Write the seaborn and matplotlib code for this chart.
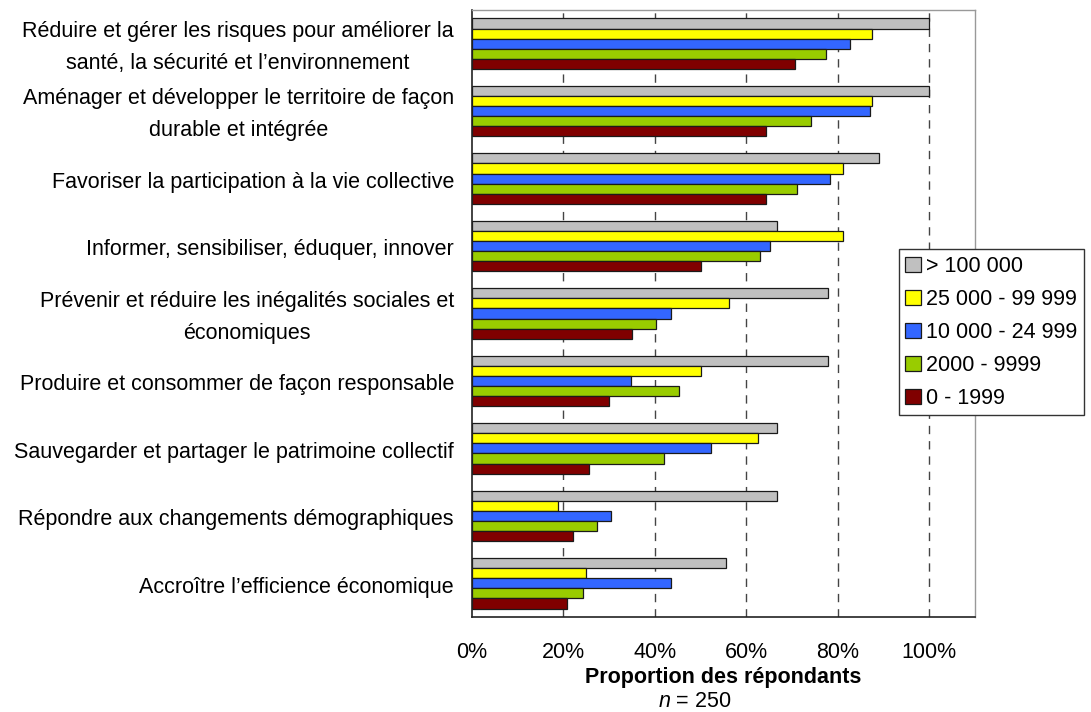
import numpy as np
import pandas as pd
import matplotlib
matplotlib.use("Agg")
import matplotlib.pyplot as plt
from matplotlib.patches import Patch
import seaborn as sns

# Data (% of respondents)
categories = [
    "Réduire et gérer les risques pour améliorer la\nsanté, la sécurité et l’environnement",
    "Aménager et développer le territoire de façon\ndurable et intégrée",
    "Favoriser la participation à la vie collective",
    "Informer, sensibiliser, éduquer, innover",
    "Prévenir et réduire les inégalités sociales et\néconomiques",
    "Produire et consommer de façon responsable",
    "Sauvegarder et partager le patrimoine collectif",
    "Répondre aux changements démographiques",
    "Accroître l’efficience économique",
]
sizes = ["> 100 000", "25 000 - 99 999", "10 000 - 24 999", "2000 - 9999", "0 - 1999"]

pop_100k = [100.0, 100.0, 88.9, 66.7, 77.8, 77.8, 66.7, 66.7, 55.6]
pop_25k = [87.5, 87.5, 81.2, 81.2, 56.2, 50.0, 62.5, 18.8, 25.0]
pop_10k = [82.6, 87.0, 78.3, 65.2, 43.5, 34.8, 52.2, 30.4, 43.5]
pop_2k = [77.4, 74.2, 71.0, 62.9, 40.3, 45.2, 41.9, 27.4, 24.2]
pop_0 = [70.7, 64.3, 64.3, 50.0, 35.0, 30.0, 25.7, 22.1, 20.7]

colors = ["#C0C0C0", "#FFFF00", "#3366FF", "#99CC00", "#800000"]

wide = pd.DataFrame({
    "Objectif": categories,
    sizes[0]: pop_100k,
    sizes[1]: pop_25k,
    sizes[2]: pop_10k,
    sizes[3]: pop_2k,
    sizes[4]: pop_0,
})
df = wide.melt(id_vars="Objectif", var_name="Taille", value_name="Proportion")

sns.set_style("white")
plt.rcParams["font.family"] = ["Liberation Sans", "DejaVu Sans"]
plt.rcParams["mathtext.fontset"] = "custom"
plt.rcParams["mathtext.it"] = "Liberation Sans:italic"
plt.rcParams["mathtext.rm"] = "Liberation Sans"
plt.rcParams["text.color"] = "black"
plt.rcParams["xtick.color"] = "black"
plt.rcParams["ytick.color"] = "black"
plt.rcParams["axes.labelcolor"] = "black"

FS = 15.5

fig = plt.figure(figsize=(10.91, 7.12), dpi=100)
ax = fig.add_axes([0.4326, 0.1334, 0.4611, 0.8526])

sns.barplot(data=df, x="Proportion", y="Objectif", hue="Taille",
            order=categories, hue_order=sizes, palette=colors,
            orient="h", width=0.75, gap=0, saturation=1,
            edgecolor="#1a1a1a", linewidth=0.9, legend=False, ax=ax)

ax.set_xlim(0, 110)
ax.set_ylim(len(categories) - 0.5, -0.5)

# x axis
ax.set_xticks([0, 20, 40, 60, 80, 100])
ax.set_xticklabels(["0%", "20%", "40%", "60%", "80%", "100%"], fontsize=FS)
ax.tick_params(axis="x", direction="out", length=6, width=1, pad=12, color="#333333")
for x in [20, 40, 60, 80, 100]:
    ax.axvline(x, color="#444444", lw=1, ls=(0, (6, 5)), zorder=0)

# y axis: ticks at group boundaries, labels drawn as text at centers
ax.set_yticks(range(len(categories)))
ax.set_yticklabels([])
ax.set_yticks(np.arange(-0.5, len(categories), 1), minor=True)
ax.tick_params(axis="y", which="major", length=0)
ax.tick_params(axis="y", which="minor", length=5, width=1, color="#333333")
ax.set_ylabel("")

trans = ax.get_yaxis_transform()
for i, txt in enumerate(categories):
    ax.text(-18 / (0.4611 * 1091), i + 0.055, txt, transform=trans, fontsize=FS,
            ha="right", va="center", multialignment="center", linespacing=1.7)

ax.set_xlabel("Proportion des répondants", fontsize=FS, fontweight="bold", labelpad=3)
fig.text(0.6364, 0.0, r"$n$ = 250", fontsize=FS, ha="center", va="bottom")

for side in ["left", "bottom"]:
    ax.spines[side].set_color("#222222")
    ax.spines[side].set_linewidth(1.2)
for side in ["top", "right"]:
    ax.spines[side].set_color("#999999")
    ax.spines[side].set_linewidth(1)

handles = [Patch(facecolor=c, edgecolor="#1a1a1a", linewidth=0.9) for c in colors]
leg = fig.legend(handles, sizes, loc="upper left", bbox_to_anchor=(0.824, 0.650),
                 fontsize=FS, frameon=True, fancybox=False, framealpha=1,
                 edgecolor="#333333", handlelength=0.7, handleheight=0.7,
                 handletextpad=0.25, labelspacing=0.56, borderpad=0.3,
                 borderaxespad=0)
leg.get_frame().set_linewidth(1)

fig.savefig("out.png", dpi=100)
